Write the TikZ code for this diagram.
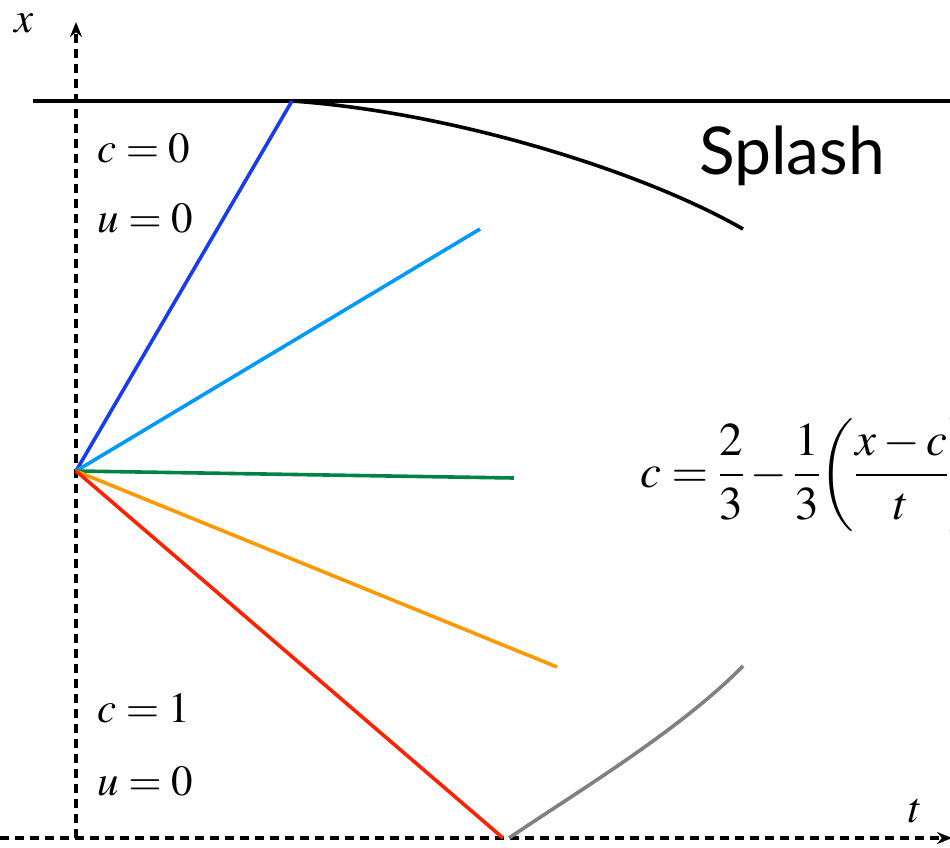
\documentclass[tikz,border=0pt]{standalone}
\usepackage{mathptmx}
\usepackage[no-math]{fontspec}
\newfontfamily\splashfont{Lato}
\usetikzlibrary{arrows.meta}
\definecolor{cblue}{RGB}{25,60,240}
\definecolor{clight}{RGB}{0,153,255}
\definecolor{cgreen}{RGB}{0,130,70}
\definecolor{corange}{RGB}{255,153,0}
\definecolor{cred}{RGB}{255,35,0}
\definecolor{cgray}{RGB}{128,128,128}
\tikzset{
  axis/.style={line width=3.5pt, dash pattern=on 9pt off 6pt, -{Stealth[length=15pt,width=12pt]}},
  fan/.style={line width=3.6pt},
  lab/.style={anchor=base west, inner sep=0pt, font=\fontsize{43}{43}\selectfont},
}
\begin{document}
\begin{tikzpicture}[x=1pt,y=-1pt]
\useasboundingbox (0,0) rectangle (950,848);
\clip (0,0) rectangle (950,848);
\coordinate (O) at (76,471);
\coordinate (xb) at (76,838);
\coordinate (xt) at (76,22);
\coordinate (tl) at (0,838);
\coordinate (tr) at (952,838);
\coordinate (hl) at (33,101);
\coordinate (hr) at (952,101);
\coordinate (pb) at (292,101);
\coordinate (pl) at (480,229);
\coordinate (pg) at (514,478);
\coordinate (po) at (557,667);
\coordinate (pr) at (503,838);
\coordinate (se) at (743,229);
\coordinate (gs) at (509,838);
\coordinate (ge) at (743,666);
% axes
\draw[axis] (xb) -- (xt);
\draw[axis] (tl) -- (tr);
\node[lab] (xlab) at (14,33) {$x$};
\node[lab] (tlab) at (908,822) {$t$};
% top line
\draw[line width=3.5pt] (hl) -- (hr);
% splash curve
\draw[line width=3.6pt] (pb) .. controls (450,112) and (640,170) .. (se);
% gray curve
\draw[cgray, line width=3.6pt] (gs) .. controls (580,790) and (680,730) .. (ge);
% fan
\draw[fan, cblue] (O) -- (pb);
\draw[fan, clight] (O) -- (pl);
\draw[fan, cgreen] (O) -- (pg);
\draw[fan, corange] (O) -- (po);
\draw[fan, cred] (O) -- (pr);
% labels
\node[lab] (c0) at (97,162) {$c=0$};
\node[lab] (u0) at (97,232) {$u=0$};
\node[lab] (c1) at (97,722) {$c=1$};
\node[lab] (u1) at (97,795) {$u=0$};
\node[lab, font=\fontsize{47}{47}\selectfont] (eq) at (640,487) {$\displaystyle c=\frac{2}{3}-\frac{1}{3}\!\left(\frac{x-c}{t}\right)$};
\node[anchor=base west, inner sep=0pt, font=\splashfont\fontsize{66}{66}\selectfont] (spl) at (699,175) {Splash};
\end{tikzpicture}
\end{document}
